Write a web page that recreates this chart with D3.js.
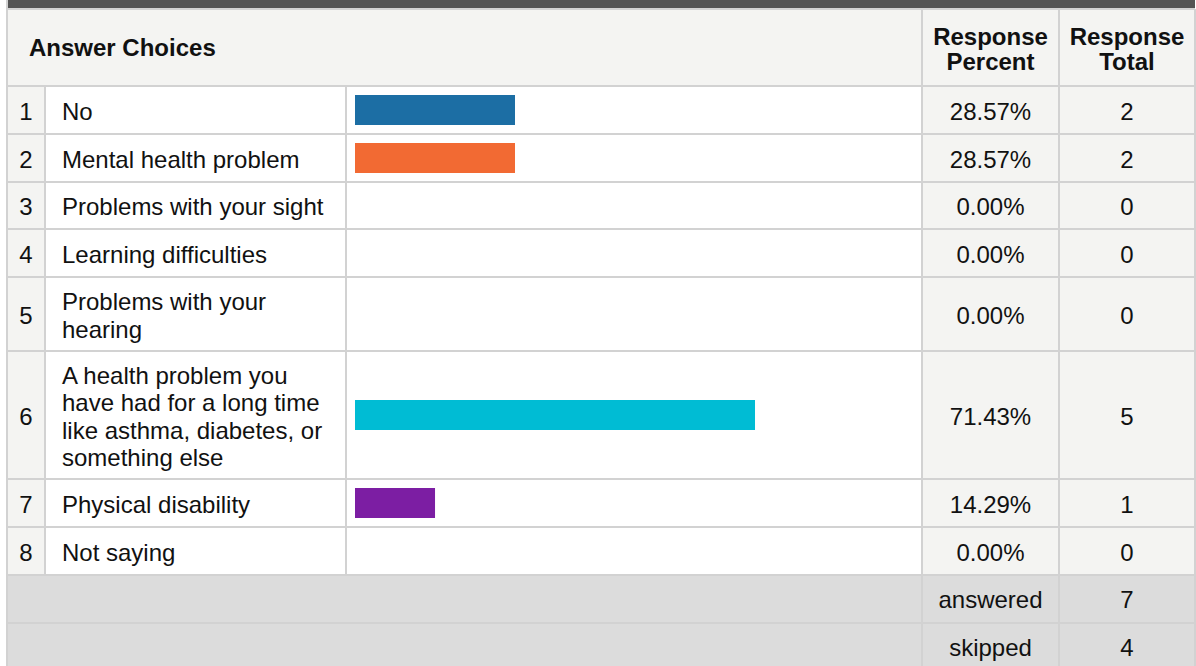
<!DOCTYPE html>
<html>
<head>
<meta charset="utf-8">
<script src="https://cdn.jsdelivr.net/npm/d3@7"></script>
<style>
  html, body { margin: 0; padding: 0; background: #ffffff; }
  svg { display: block; }
  text { font-family: "Liberation Sans", Arial, Helvetica, sans-serif; fill: #111; }
</style>
</head>
<body>
<svg id="chart" width="1196" height="666"></svg>
<script>
// ---- data ----
const categories = [
  "No",
  "Mental health problem",
  "Problems with your sight",
  "Learning difficulties",
  "Problems with your hearing",
  "A health problem you have had for a long time like asthma, diabetes, or something else",
  "Physical disability",
  "Not saying"
];
const responsePercent = [28.57, 28.57, 0.00, 0.00, 0.00, 71.43, 14.29, 0.00];
const responseTotal = [2, 2, 0, 0, 0, 5, 1, 0];
const summaryLabels = ["answered", "skipped"];
const summaryValues = [7, 4];
const headerLabels = ["Answer Choices", "Response Percent", "Response Total"];

// ---- style ----
const barColors = ["#1c6ea4", "#f26a33", "#4caf50", "#ffc107", "#e91e63", "#00bcd4", "#7c1ea3", "#607d8b"];
const fontSize = 24;
const lineH = 27.5;
const gridColor = "#d2d2d2";
const cellBg = "#f4f4f2";
const footBg = "#dcdcdc";

const svg = d3.select("#chart");

// column edges
const xLeft = 7, xNum = 45, xAns = 346, xPct = 922, xTot = 1059, xRight = 1195;
const yTopBar = 9, yHeadBottom = 86;

// scale for bars
const barX0 = xAns + 9;
const x = d3.scaleLinear().domain([0, 100]).range([0, 560]);

// temp measuring text for wrapping
const measure = svg.append("text").attr("font-size", fontSize).attr("x", -1000).attr("y", -1000);
function wrap(str, maxW) {
  const words = str.split(" ");
  const lines = [];
  let cur = "";
  words.forEach(w => {
    const test = cur ? cur + " " + w : w;
    measure.text(test);
    if (measure.node().getComputedTextLength() > maxW && cur) {
      lines.push(cur);
      cur = w;
    } else {
      cur = test;
    }
  });
  if (cur) lines.push(cur);
  return lines;
}

const rows = [];
let yCursor = yHeadBottom;
categories.forEach((c, i) => {
  const lines = wrap(c, 272);
  const h = lines.length === 1 ? 47.75 : lines.length * lineH + 18.5;
  rows.push({ i, label: c, lines, y0: yCursor, h, pct: responsePercent[i], tot: responseTotal[i] });
  yCursor += h;
});
measure.remove();
const yRowsBottom = yCursor;
const footRows = summaryLabels.map((l, i) => ({ label: l, value: summaryValues[i], y0: yRowsBottom + i * 48, h: 48 }));
const yBottom = 700;

// ---- backgrounds ----
svg.append("rect").attr("x", xLeft).attr("y", 0).attr("width", xRight - xLeft).attr("height", 8).attr("fill", "#545454");
svg.append("rect").attr("x", xLeft).attr("y", yTopBar).attr("width", xRight - xLeft).attr("height", yHeadBottom - yTopBar).attr("fill", cellBg);

const rowG = svg.append("g");
rows.forEach(r => {
  rowG.append("rect").attr("x", xLeft).attr("y", r.y0).attr("width", xNum - xLeft).attr("height", r.h).attr("fill", cellBg);
  rowG.append("rect").attr("x", xNum).attr("y", r.y0).attr("width", xPct - xNum).attr("height", r.h).attr("fill", "#ffffff");
  rowG.append("rect").attr("x", xPct).attr("y", r.y0).attr("width", xRight - xPct).attr("height", r.h).attr("fill", cellBg);
});
svg.append("rect").attr("x", xLeft).attr("y", yRowsBottom).attr("width", xRight - xLeft).attr("height", yBottom - yRowsBottom).attr("fill", footBg);

// ---- bars ----
svg.append("g").selectAll("rect").data(rows.filter(r => r.pct > 0)).join("rect")
  .attr("x", barX0)
  .attr("y", r => Math.round(r.y0 + r.h / 2 - 15))
  .attr("width", r => x(r.pct))
  .attr("height", 30)
  .attr("fill", r => barColors[r.i]);

// ---- grid lines ----
const grid = svg.append("g").attr("stroke", gridColor).attr("stroke-width", 2);
[yTopBar].concat(rows.map(r => Math.round(r.y0)), [Math.round(yRowsBottom)], footRows.map(f => Math.round(f.y0 + f.h))).forEach(y => {
  grid.append("line").attr("x1", xLeft).attr("x2", xRight).attr("y1", y).attr("y2", y);
});
grid.append("line").attr("x1", xLeft).attr("x2", xLeft).attr("y1", 0).attr("y2", yBottom);
grid.append("line").attr("x1", xRight).attr("x2", xRight).attr("y1", yTopBar).attr("y2", yBottom);
[xNum, xAns].forEach(xx => grid.append("line").attr("x1", xx).attr("x2", xx).attr("y1", yHeadBottom).attr("y2", Math.round(yRowsBottom)));
[xPct, xTot].forEach(xx => grid.append("line").attr("x1", xx).attr("x2", xx).attr("y1", yTopBar).attr("y2", yBottom));

// ---- text ----
const base = 10;
const tg = svg.append("g").attr("font-size", fontSize);
const headMid = (yTopBar + yHeadBottom) / 2;
tg.append("text").attr("x", 29).attr("y", headMid + 8).attr("font-weight", "bold").text(headerLabels[0]);
[[headerLabels[1], (xPct + xTot) / 2], [headerLabels[2], (xTot + xRight) / 2]].forEach(([lab, cx]) => {
  const parts = lab.split(" ");
  parts.forEach((p, k) => {
    tg.append("text").attr("x", cx).attr("y", headMid + 10 + (k - (parts.length - 1) / 2) * 25)
      .attr("text-anchor", "middle").attr("font-weight", "bold").text(p);
  });
});

rows.forEach(r => {
  const cy = r.y0 + r.h / 2;
  tg.append("text").attr("x", (xLeft + xNum) / 2).attr("y", cy + base).attr("text-anchor", "middle").text(r.i + 1);
  r.lines.forEach((ln, k) => {
    tg.append("text").attr("x", 62).attr("y", cy + base + (k - (r.lines.length - 1) / 2) * lineH).text(ln);
  });
  tg.append("text").attr("x", (xPct + xTot) / 2).attr("y", cy + base).attr("text-anchor", "middle").text(d3.format(".2f")(r.pct) + "%");
  tg.append("text").attr("x", (xTot + xRight) / 2).attr("y", cy + base).attr("text-anchor", "middle").text(r.tot);
});

footRows.forEach(f => {
  const cy = f.y0 + f.h / 2;
  tg.append("text").attr("x", (xPct + xTot) / 2).attr("y", cy + base - 1).attr("text-anchor", "middle").text(f.label);
  tg.append("text").attr("x", (xTot + xRight) / 2).attr("y", cy + base - 1).attr("text-anchor", "middle").text(f.value);
});
</script>
</body>
</html>
